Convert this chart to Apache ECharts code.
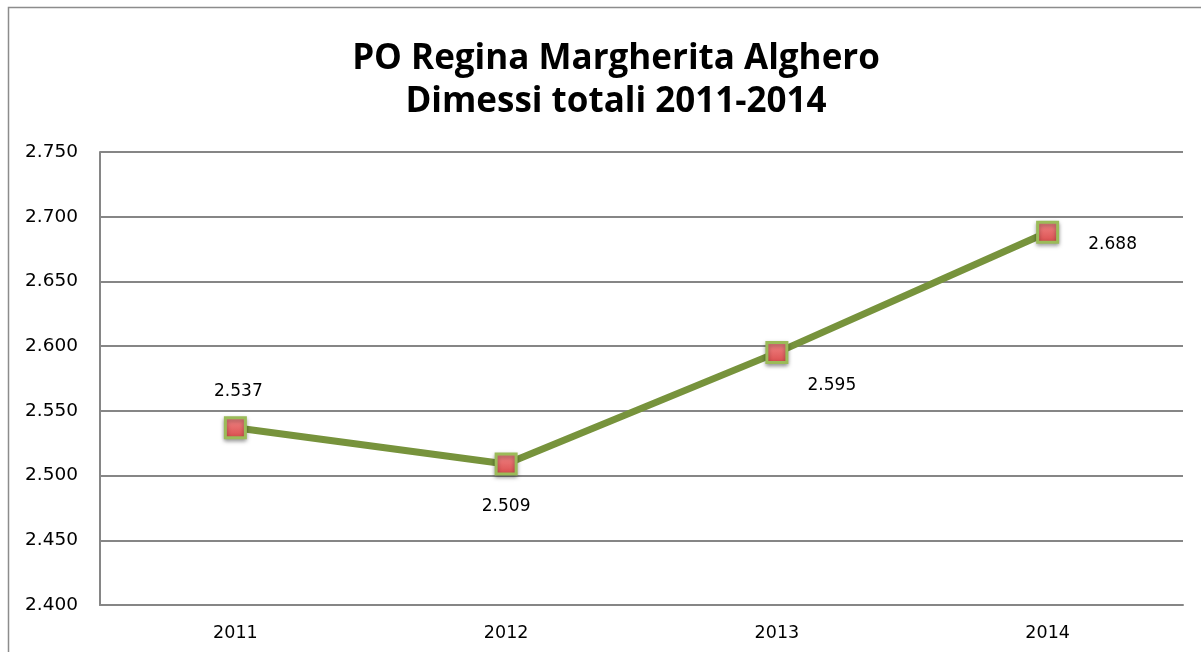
<!DOCTYPE html>
<html lang="it">
<head>
<meta charset="UTF-8">
<title>PO Regina Margherita Alghero</title>
<script src="https://cdn.jsdelivr.net/npm/echarts@6/dist/echarts.min.js"></script>
<style>
  html, body { margin: 0; padding: 0; background: #fff; }
  #chart { width: 1201px; height: 652px; }
</style>
</head>
<body>
<div id="chart"></div>
<script>
  var years = ['2011', '2012', '2013', '2014'];
  var dimessi = [2537, 2509, 2595, 2688];
  // label offset from each marker centre, as in the original
  var labelOffset = [[3, -36], [0, 43], [55, 33], [65, 12]];

  function fmt(v) {
    return String(v).replace(/\B(?=(\d{3})+(?!\d))/g, '.');
  }

  var chart = echarts.init(document.getElementById('chart'));
  var option = {
    animation: false,
    textStyle: { fontFamily: 'DejaVu Sans, sans-serif' },
    title: {
      text: 'PO Regina Margherita Alghero\nDimessi totali 2011-2014',
      left: 611,
      top: 33,
      textAlign: 'center',
      textStyle: { fontSize: 35, fontWeight: 'bold', color: '#000', lineHeight: 43, fontFamily: 'Open Sans, sans-serif' }
    },
    graphic: [{
      type: 'rect',
      shape: { x: 8.5, y: 7.5, width: 1300, height: 700 },
      style: { fill: 'none', stroke: '#8c8c8c', lineWidth: 1.5 },
      silent: true
    }],
    grid: { left: 100, right: 18, top: 152, bottom: 47 },
    xAxis: {
      type: 'category',
      data: years,
      boundaryGap: true,
      axisLine: { lineStyle: { color: '#868686', width: 2 } },
      axisTick: { show: false },
      axisLabel: { color: '#000', fontSize: 17.5, margin: 19 }
    },
    yAxis: {
      type: 'value',
      min: 2400,
      max: 2750,
      interval: 50,
      axisLine: { show: true, lineStyle: { color: '#868686', width: 2 } },
      axisTick: { show: false },
      axisLabel: {
        color: '#000', fontSize: 18.5, margin: 22,
        formatter: function (v) { return fmt(v); }
      },
      splitLine: { lineStyle: { color: '#868686', width: 2 } }
    },
    series: [{
      type: 'line',
      data: dimessi.map(function (v, i) {
        return { value: v, label: { offset: labelOffset[i] } };
      }),
      lineStyle: { color: '#77933C', width: 7 },
      symbol: 'rect',
      symbolSize: 20,
      itemStyle: {
        color: new echarts.graphic.LinearGradient(0, 0, 0, 1, [
          { offset: 0, color: '#F28A8A' },
          { offset: 1, color: '#D94B4B' }
        ]),
        borderColor: '#9BBB59',
        borderWidth: 3,
        shadowColor: 'rgba(0,0,0,0.35)',
        shadowBlur: 4,
        shadowOffsetY: 2
      },
      label: {
        show: true,
        position: 'inside',
        color: '#000',
        fontSize: 17,
        formatter: function (p) { return fmt(p.value); }
      },
      z: 3
    }]
  };
  chart.setOption(option);
</script>
</body>
</html>
